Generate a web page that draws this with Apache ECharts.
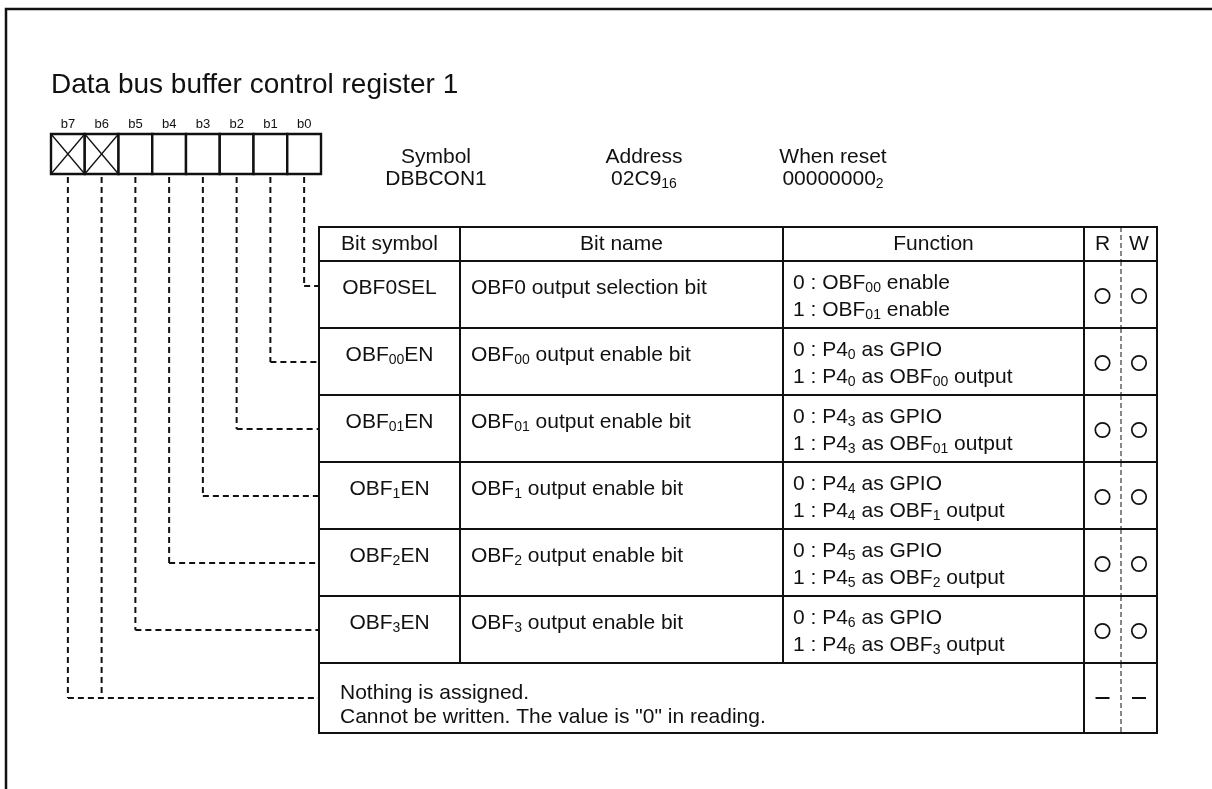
<!DOCTYPE html>
<html><head><meta charset="utf-8">
<script src="https://cdn.jsdelivr.net/npm/echarts@6/dist/echarts.min.js"></script>
<style>html,body{margin:0;padding:0;background:#fff}#c{width:1212px;height:789px}</style>
</head><body><div id="c"></div>
<script>
// ---------------- data (text content) ----------------
const titleText = 'Data bus buffer control register 1';
const bitLabels = ['b7', 'b6', 'b5', 'b4', 'b3', 'b2', 'b1', 'b0'];
const bitReserved = [true, true, false, false, false, false, false, false];
const infoHeads = ['Symbol', 'Address', 'When reset'];
const infoValues = ['DBBCON1', '02C9{s|16}', '00000000{s|2}'];
const columnHeads = ['Bit symbol', 'Bit name', 'Function', 'R', 'W'];
const bitSymbols = ['OBF0SEL', 'OBF{s|00}EN', 'OBF{s|01}EN', 'OBF{s|1}EN', 'OBF{s|2}EN', 'OBF{s|3}EN'];
const bitNames = ['OBF0 output selection bit', 'OBF{s|00} output enable bit', 'OBF{s|01} output enable bit',
  'OBF{s|1} output enable bit', 'OBF{s|2} output enable bit', 'OBF{s|3} output enable bit'];
const funcLine0 = ['0 : OBF{s|00} enable', '0 : P4{s|0} as GPIO', '0 : P4{s|3} as GPIO',
  '0 : P4{s|4} as GPIO', '0 : P4{s|5} as GPIO', '0 : P4{s|6} as GPIO'];
const funcLine1 = ['1 : OBF{s|01} enable', '1 : P4{s|0} as OBF{s|00} output', '1 : P4{s|3} as OBF{s|01} output',
  '1 : P4{s|4} as OBF{s|1} output', '1 : P4{s|5} as OBF{s|2} output', '1 : P4{s|6} as OBF{s|3} output'];
const readMarks = ['O', 'O', 'O', 'O', 'O', 'O', '-'];
const writeMarks = ['O', 'O', 'O', 'O', 'O', 'O', '-'];
const rowBits = [['b0'], ['b1'], ['b2'], ['b3'], ['b4'], ['b5'], ['b7', 'b6']];
const unassignedLines = ['Nothing is assigned.', 'Cannot be written. The value is "0" in reading.'];

// ---------------- layout (positions / sizes / styles) ----------------
const W = 1212, H = 789;
const L = {
  frameX: 6, frameY: 9,
  regLeft: 51, regTop: 134, cellW: 33.75, cellH: 40, bitLabelY: 124,
  infoX: [436, 644, 833], infoY: [157, 179],
  colX: [319, 460, 783, 1084, 1157], rwDiv: 1121,
  tTop: 227, headBottom: 261, rowH: 67, lastRowH: 70,
  textDy: 27, func0Dy: 22, func1Dy: 49, markDy: 35, leaderDy: 34, firstLeaderDy: 25,
  lastLine0Dy: 30, lastLine1Dy: 54, lastTextX: 340,
  nameX: 471, funcX: 793
};
const FONT = '"Liberation Sans", Arial, Helvetica, sans-serif';
const INK = '#111';
const BODY = 21;
const RICH = { s: { fontSize: 14, lineHeight: 19, verticalAlign: 'bottom', fontFamily: FONT, fill: INK } };

function txt(api, x, y, text, size, align) {
  const p = api.coord([x, y]);
  return { type: 'text', x: p[0], y: p[1], silent: true,
    style: { text: text, fontSize: size, fontFamily: FONT, fill: INK, align: align || 'left',
      verticalAlign: 'middle', lineHeight: 24, rich: RICH } };
}
function seg(api, x1, y1, x2, y2, w, dash) {
  const a = api.coord([x1, y1]), b = api.coord([x2, y2]);
  return { type: 'line', silent: true, shape: { x1: a[0], y1: a[1], x2: b[0], y2: b[1] },
    style: { stroke: INK, lineWidth: w, lineDash: dash || null, fill: null } };
}
function bitX(name) { const i = bitLabels.indexOf(name); return L.regLeft + (i + 0.5) * L.cellW; }

function rowTop(i) { // i: 0 = header, 1..n = rows
  if (i === 0) return L.tTop;
  return L.headBottom + (i - 1) * L.rowH;
}
function rowBottom(i) {
  if (i === 0) return L.headBottom;
  if (i === bitSymbols.length + 1) return rowTop(i) + L.lastRowH;
  return rowTop(i) + L.rowH;
}

// frame
function renderFrame(params, api) {
  const pts = [[L.frameX, H], [L.frameX, L.frameY], [W, L.frameY]].map(p => api.coord(p));
  return { type: 'polyline', silent: true, shape: { points: pts }, style: { stroke: INK, lineWidth: 2.5, fill: null } };
}

// register bits
function renderBit(params, api) {
  const i = params.dataIndex;
  const x0 = L.regLeft + i * L.cellW, x1 = x0 + L.cellW;
  const y0 = L.regTop, y1 = L.regTop + L.cellH;
  const a = api.coord([x0, y0]), b = api.coord([x1, y1]);
  const ch = [
    { type: 'rect', silent: true, shape: { x: a[0], y: a[1], width: b[0] - a[0], height: b[1] - a[1] },
      style: { stroke: INK, lineWidth: 2.4, fill: '#fff' } },
    txt(api, (x0 + x1) / 2, L.bitLabelY, bitLabels[i], 13, 'center')
  ];
  if (bitReserved[i]) {
    ch.push(seg(api, x0, y0, x1, y1, 1.3));
    ch.push(seg(api, x1, y0, x0, y1, 1.3));
  }
  return { type: 'group', children: ch };
}

// info block
function renderInfo(params, api) {
  const i = params.dataIndex;
  return { type: 'group', children: [
    txt(api, L.infoX[i], L.infoY[0], infoHeads[i], BODY, 'center'),
    txt(api, L.infoX[i], L.infoY[1], infoValues[i], BODY, 'center')
  ] };
}

function mark(api, m, cx, cy) {
  if (m === 'O') {
    const p = api.coord([cx, cy]);
    return { type: 'circle', silent: true, shape: { cx: p[0], cy: p[1], r: 7.2 },
      style: { stroke: INK, lineWidth: 1.7, fill: null } };
  }
  return seg(api, cx - 7, cy, cx + 7, cy, 2);
}

// table rows
const nRows = bitSymbols.length + 2; // header + bit rows + unassigned row
function renderRow(params, api) {
  const i = params.dataIndex;
  const top = rowTop(i), bot = rowBottom(i);
  const c = L.colX;
  const ch = [];
  const a = api.coord([c[0], top]), b = api.coord([c[4], bot]);
  ch.push({ type: 'rect', silent: true, shape: { x: a[0], y: a[1], width: b[0] - a[0], height: b[1] - a[1] },
    style: { stroke: INK, lineWidth: 2, fill: null } });
  const isLast = i === nRows - 1;
  const inner = isLast ? [c[3]] : [c[1], c[2], c[3]];
  inner.forEach(x => ch.push(seg(api, x, top, x, bot, 2)));
  ch.push(seg(api, L.rwDiv, top, L.rwDiv, bot, 1, [5, 3]));
  const rC = (c[3] + L.rwDiv) / 2, wC = (L.rwDiv + c[4]) / 2;
  if (i === 0) {
    const mid = (top + bot) / 2;
    ch.push(txt(api, (c[0] + c[1]) / 2, mid, columnHeads[0], BODY, 'center'));
    ch.push(txt(api, (c[1] + c[2]) / 2, mid, columnHeads[1], BODY, 'center'));
    ch.push(txt(api, (c[2] + c[3]) / 2, mid, columnHeads[2], BODY, 'center'));
    ch.push(txt(api, rC, mid, columnHeads[3], BODY, 'center'));
    ch.push(txt(api, wC, mid, columnHeads[4], BODY, 'center'));
    return { type: 'group', children: ch };
  }
  const k = i - 1;
  let leaderY;
  if (isLast) {
    ch.push(txt(api, L.lastTextX, top + L.lastLine0Dy, unassignedLines[0], BODY, 'left'));
    ch.push(txt(api, L.lastTextX, top + L.lastLine1Dy, unassignedLines[1], BODY, 'left'));
    leaderY = top + L.markDy;
  } else {
    ch.push(txt(api, (c[0] + c[1]) / 2, top + L.textDy, bitSymbols[k], BODY, 'center'));
    ch.push(txt(api, L.nameX, top + L.textDy, bitNames[k], BODY, 'left'));
    ch.push(txt(api, L.funcX, top + L.func0Dy, funcLine0[k], BODY, 'left'));
    ch.push(txt(api, L.funcX, top + L.func1Dy, funcLine1[k], BODY, 'left'));
    leaderY = top + (k === 0 ? L.firstLeaderDy : L.leaderDy);
  }
  ch.push(mark(api, readMarks[k], rC, top + L.markDy));
  ch.push(mark(api, writeMarks[k], wC, top + L.markDy));
  // leader lines from register bits
  const bits = rowBits[k];
  const regBottom = L.regTop + L.cellH + 3;
  let minX = Infinity;
  bits.forEach(bn => {
    const x = bitX(bn);
    minX = Math.min(minX, x);
    ch.push(seg(api, x, regBottom, x, leaderY, 2, [6, 4]));
  });
  ch.push(seg(api, minX, leaderY, c[0], leaderY, 2, [6, 4]));
  return { type: 'group', children: ch };
}

const chart = echarts.init(document.getElementById('c'), null, { renderer: 'canvas' });
chart.setOption({
  animation: false,
  backgroundColor: '#fff',
  title: { text: titleText, left: 51, top: 71, padding: 0,
    textStyle: { fontSize: 28, fontWeight: 'normal', color: INK, fontFamily: FONT } },
  tooltip: { show: false },
  grid: { left: 0, top: 0, right: 0, bottom: 0 },
  xAxis: { type: 'value', min: 0, max: W, show: false },
  yAxis: { type: 'value', min: 0, max: H, inverse: true, show: false },
  series: [
    { type: 'custom', name: 'frame', renderItem: renderFrame, data: [[0, 0]], silent: true },
    { type: 'custom', name: 'info', renderItem: renderInfo, data: infoHeads.map((_, i) => [i, 0]), silent: true },
    { type: 'custom', name: 'table', renderItem: renderRow,
      data: Array.from({ length: nRows }, (_, i) => [i, 0]), silent: true },
    { type: 'custom', name: 'register', renderItem: renderBit, data: bitLabels.map((_, i) => [i, 0]), silent: true }
  ]
});
</script></body></html>
